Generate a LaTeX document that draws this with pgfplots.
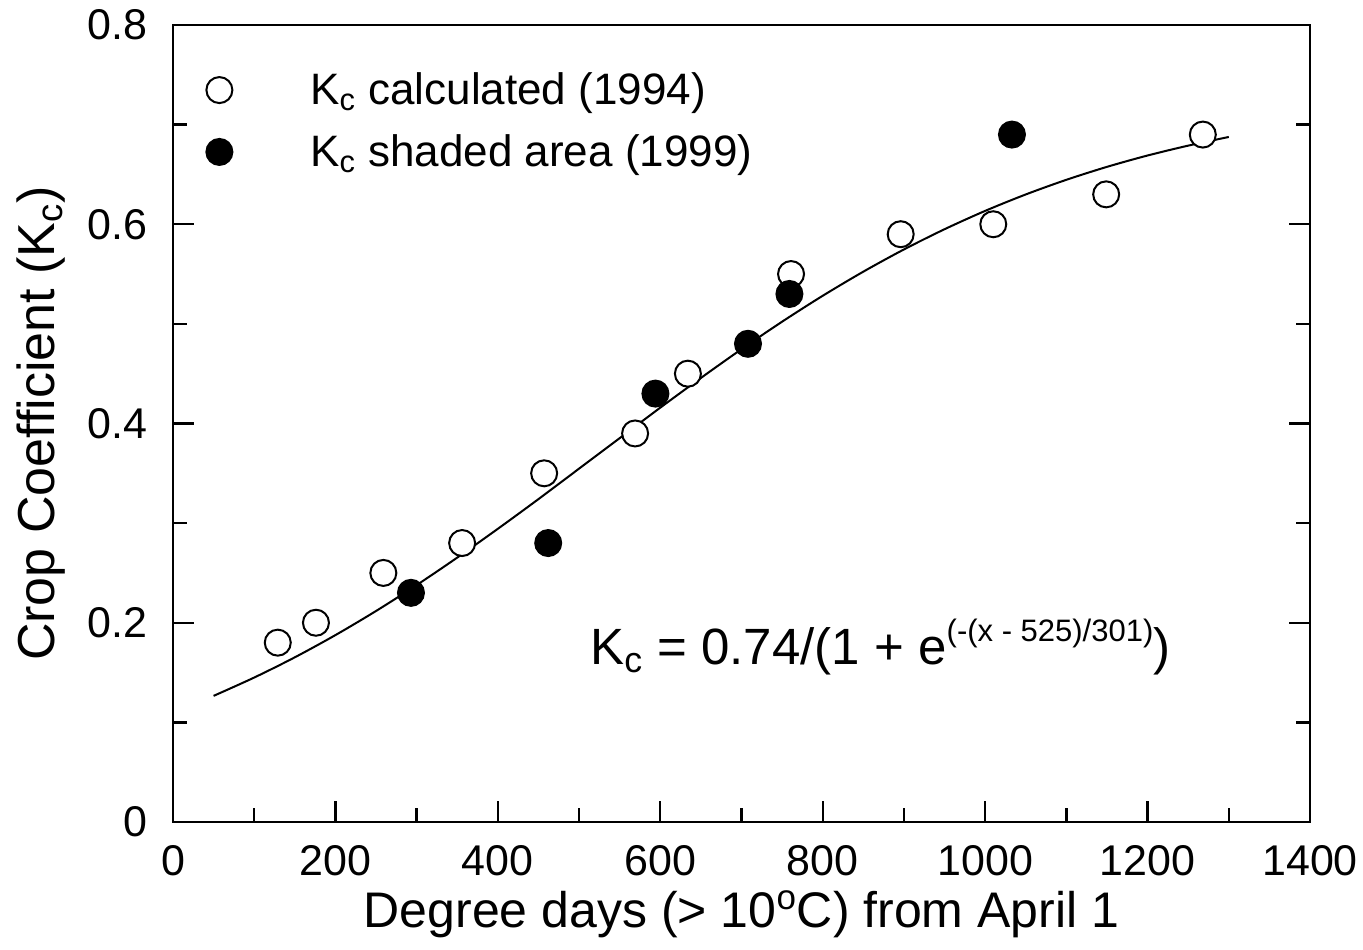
\documentclass[border=0pt]{standalone}
\usepackage{fontspec}
\setmainfont{Liberation Sans}
\usepackage{pgfplots}
\pgfplotsset{compat=1.18}
\begin{document}
\begin{tikzpicture}
\begin{axis}[
  name=ax,
  scale only axis,
  width=568.5pt, height=398.5pt,
  xmin=0, xmax=1400, ymin=0, ymax=0.8,
  xtick={0,200,...,1400},
  minor xtick={100,300,...,1300},
  ytick={0,0.2,0.4,0.6,0.8},
  minor ytick={0.1,0.3,0.5,0.7},
  yticklabels={0,0.2,0.4,0.6,0.8},
  xtick pos=bottom,
  ytick pos=both,
  tick align=inside,
  major tick length=10.5pt,
  minor tick length=7pt,
  every tick/.style={black, line width=1.2pt},
  axis line style={line width=1.4pt},
  /pgf/number format/assume math mode=true,
  /pgf/number format/1000 sep={},
  tick label style={font=\fontsize{21.5}{25}\selectfont, inner sep=0pt},
  xticklabel style={anchor=base, yshift=-27pt},
  yticklabel style={anchor=east, xshift=-12.5pt},
  xlabel={Degree days (> 10\textsuperscript{o}C) from April 1},
  ylabel={Crop Coefficient (K\textsubscript{c})},
  xlabel style={font=\fontsize{25}{30}\selectfont, at={(axis description cs:0.5,-0.133)}, anchor=base, inner sep=0pt},
  ylabel style={font=\fontsize{26}{30}\selectfont, at={(axis description cs:-0.1038,0.5)}, anchor=base, inner sep=0pt},
  legend style={draw=none, fill=none, at={(axis cs:55.4,0.7566)}, anchor=north west,
    font=\fontsize{22}{26}\selectfont, row sep=9.5pt, inner sep=0pt, xshift=-6pt},
  legend cell align=left,
  legend image code/.code={\path[draw=none, fill=none] (-6.5pt,-6.5pt) rectangle (43.5pt,6.5pt);
    \draw[mark repeat=2,mark phase=2,#1] plot coordinates {(0pt,0pt)(0pt,0pt)(1pt,0pt)};},
]
\addplot[black, line width=1pt, smooth, forget plot] coordinates {
(50,0.1266)(100,0.1450)(150,0.1653)(200,0.1876)(250,0.2118)(300,0.2378)
(350,0.2654)(400,0.2943)(450,0.3241)(500,0.3547)(550,0.3853)(600,0.4159)
(650,0.4457)(700,0.4746)(750,0.5022)(800,0.5282)(850,0.5524)(900,0.5747)
(950,0.5950)(1000,0.6134)(1050,0.6299)(1100,0.6446)(1150,0.6576)(1200,0.6690)
(1250,0.6789)(1300,0.6876)};
\addplot[only marks, mark=*, mark options={fill=white, draw=black, line width=1pt}, mark size=6.5pt] coordinates {
(129,0.18)(176,0.20)(259,0.25)(356,0.28)(457,0.35)(569,0.39)(634,0.45)
(761,0.55)(896,0.59)(1010,0.60)(1149,0.63)(1268,0.69)};
\addlegendentry{K\textsubscript{c} calculated (1994)}
\addplot[only marks, mark=*, mark options={fill=black, draw=black, line width=1pt}, mark size=6.5pt] coordinates {
(293,0.23)(462,0.28)(594,0.43)(708,0.48)(759,0.53)(1033,0.69)};
\addlegendentry{K\textsubscript{c} shaded area (1999)}
\node[font=\fontsize{25.5}{30}\selectfont, anchor=base west, inner sep=0pt] at (axis cs:513.5,0.1576)
  {K\textsubscript{c} = 0.74/(1 + e\raisebox{11.5pt}{\fontsize{15.5}{16}\selectfont (-(x - 525)/301)})};
\end{axis}
\pgfresetboundingbox
\path[use as bounding box] ([shift={(-86.5pt,-64pt)}]ax.south west) rectangle ([shift={(26.5pt,12.5pt)}]ax.north east);
\end{tikzpicture}
\end{document}
